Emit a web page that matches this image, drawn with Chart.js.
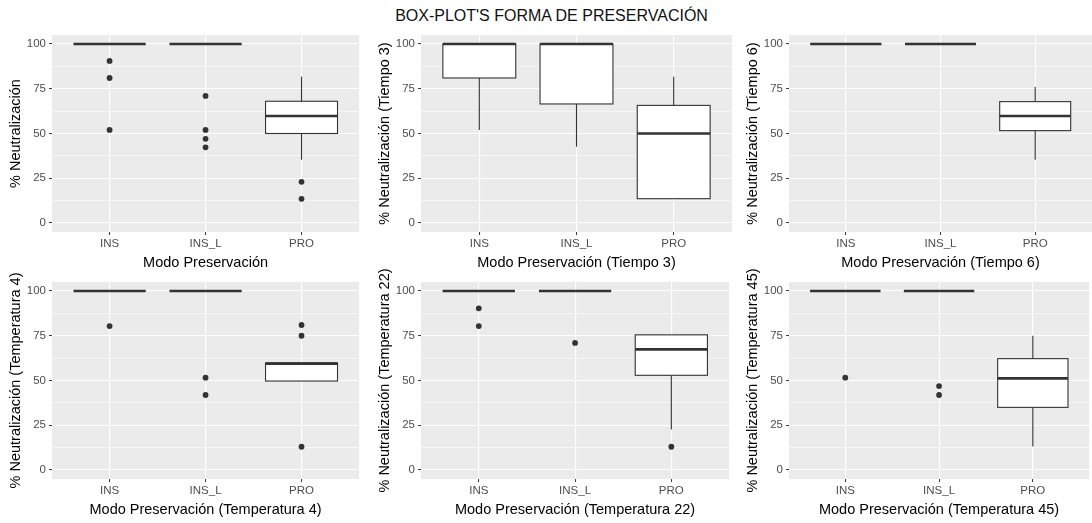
<!DOCTYPE html>
<html>
<head>
<meta charset="utf-8">
<script src="https://cdn.jsdelivr.net/npm/chart.js@4"></script>
<style>
  html, body { margin: 0; padding: 0; background: #ffffff; }
  #wrap { position: relative; width: 1092px; height: 523px; overflow: hidden; }
  #title {
    position: absolute; left: 0; width: 1103px; top: 7px;
    text-align: center; font: 16px "Liberation Sans", Arial, sans-serif; color: #111;
  }
  canvas { position: absolute; }
</style>
</head>
<body>
<div id="wrap">
  <div id="title">BOX-PLOT'S FORMA DE PRESERVACIÓN</div>
  <canvas id="p1"></canvas>
  <canvas id="p2"></canvas>
  <canvas id="p3"></canvas>
  <canvas id="p4"></canvas>
  <canvas id="p5"></canvas>
  <canvas id="p6"></canvas>
</div>
<script>
// Categories and axis ticks shared by all panels
const categories = ['INS', 'INS_L', 'PRO'];
const yTicks = [0, 12.5, 25, 37.5, 50, 62.5, 75, 87.5, 100];
const yLabelTicks = [0, 25, 50, 75, 100];

// Box statistics per category: [lower whisker, Q1, median, Q3, upper whisker]
const modoStats      = [[100, 100, 100, 100, 100], [100, 100, 100, 100, 100], [35.4, 50, 59.8, 68, 81.7]];
const modoOutliers   = [[90.5, 81, 52], [71, 52, 47, 42.3], [23, 13.5]];

const tiempo3Stats    = [[52, 81, 100, 100, 100], [42.6, 66.5, 100, 100, 100], [13.6, 13.6, 50, 65.7, 81.7]];
const tiempo3Outliers = [[], [], []];

const tiempo6Stats    = [[100, 100, 100, 100, 100], [100, 100, 100, 100, 100], [35.4, 51.6, 59.8, 67.8, 76]];
const tiempo6Outliers = [[], [], []];

const temp4Stats      = [[100, 100, 100, 100, 100], [100, 100, 100, 100, 100], [49.7, 49.7, 59.4, 59.8, 59.8]];
const temp4Outliers   = [[80.4], [51.6, 41.9], [81, 75, 13]];

const temp22Stats     = [[100, 100, 100, 100, 100], [100, 100, 100, 100, 100], [22.7, 52.9, 67.4, 75.5, 75.5]];
const temp22Outliers  = [[90.3, 80.4], [71], [13]];

const temp45Stats     = [[100, 100, 100, 100, 100], [100, 100, 100, 100, 100], [13.2, 35, 51.2, 62.2, 75]];
const temp45Outliers  = [[51.6], [46.9, 41.9], []];

const panels = [
  { id: 'p1', left: 0,   top: 18,  w: 362, yTitle: '% Neutralización',                 xTitle: 'Modo Preservación',                 stats: modoStats,    outliers: modoOutliers },
  { id: 'p2', left: 369, top: 18,  w: 363, yTitle: '% Neutralización (Tiempo 3)',       xTitle: 'Modo Preservación (Tiempo 3)',       stats: tiempo3Stats, outliers: tiempo3Outliers },
  { id: 'p3', left: 737, top: 18,  w: 355, yTitle: '% Neutralización (Tiempo 6)',       xTitle: 'Modo Preservación (Tiempo 6)',       stats: tiempo6Stats, outliers: tiempo6Outliers },
  { id: 'p4', left: 0,   top: 265, w: 362, yTitle: '% Neutralización (Temperatura 4)',  xTitle: 'Modo Preservación (Temperatura 4)',  stats: temp4Stats,   outliers: temp4Outliers },
  { id: 'p5', left: 369, top: 265, w: 363, yTitle: '% Neutralización (Temperatura 22)', xTitle: 'Modo Preservación (Temperatura 22)', stats: temp22Stats,  outliers: temp22Outliers },
  { id: 'p6', left: 737, top: 265, w: 355, yTitle: '% Neutralización (Temperatura 45)', xTitle: 'Modo Preservación (Temperatura 45)', stats: temp45Stats,  outliers: temp45Outliers }
];

const FONT = '"Liberation Sans", Arial, sans-serif';
const INK = '#333333';
const BOX_HALF = 0.375;

// Grey panel background behind the grid
const panelBackground = {
  id: 'panelBackground',
  beforeDraw(chart) {
    const { ctx, chartArea: a } = chart;
    ctx.save();
    ctx.fillStyle = '#EBEBEB';
    ctx.fillRect(a.left, a.top, a.right - a.left, a.bottom - a.top);
    ctx.restore();
  }
};

// Box-and-whisker marks, positioned through the chart's own scales
const boxes = {
  id: 'boxes',
  beforeDatasetsDraw(chart, args, opts) {
    const { ctx } = chart;
    const xs = chart.scales.x, ys = chart.scales.y;
    ctx.save();
    opts.stats.forEach((s, i) => {
      const [lo, q1, med, q3, hi] = s;
      const cx = xs.getPixelForValue(i + 1);
      const x0 = xs.getPixelForValue(i + 1 - BOX_HALF);
      const x1 = xs.getPixelForValue(i + 1 + BOX_HALF);
      const yLo = ys.getPixelForValue(lo), yQ1 = ys.getPixelForValue(q1);
      const yMed = ys.getPixelForValue(med), yQ3 = ys.getPixelForValue(q3);
      const yHi = ys.getPixelForValue(hi);
      ctx.strokeStyle = INK;
      ctx.lineWidth = 1.1;
      // whiskers
      ctx.beginPath();
      ctx.moveTo(cx, yQ3); ctx.lineTo(cx, yHi);
      ctx.moveTo(cx, yQ1); ctx.lineTo(cx, yLo);
      ctx.stroke();
      // box
      ctx.fillStyle = '#ffffff';
      ctx.fillRect(x0, yQ3, x1 - x0, yQ1 - yQ3);
      ctx.strokeRect(x0, yQ3, x1 - x0, yQ1 - yQ3);
      // median
      ctx.lineWidth = 2.6;
      ctx.beginPath();
      ctx.moveTo(x0, yMed); ctx.lineTo(x1, yMed);
      ctx.stroke();
    });
    ctx.restore();
  }
};

panels.forEach(p => {
  const cv = document.getElementById(p.id);
  const H = 257;
  cv.width = p.w; cv.height = H;
  cv.style.left = p.left + 'px';
  cv.style.top = p.top + 'px';

  const points = [];
  p.outliers.forEach((vals, i) => vals.forEach(v => points.push({ x: i + 1, y: v })));

  new Chart(cv, {
    type: 'scatter',
    data: {
      datasets: [{
        data: points,
        pointRadius: 2.9,
        pointHoverRadius: 2.9,
        backgroundColor: INK,
        borderWidth: 0
      }]
    },
    plugins: [panelBackground, boxes],
    options: {
      responsive: false,
      animation: false,
      events: [],
      layout: { padding: { top: 17, right: 0, left: 0, bottom: 0 } },
      plugins: {
        legend: { display: false },
        tooltip: { enabled: false },
        boxes: { stats: p.stats }
      },
      scales: {
        x: {
          type: 'linear',
          min: 0.4,
          max: 3.6,
          afterBuildTicks(scale) { scale.ticks = categories.map((c, i) => ({ value: i + 1 })); },
          afterFit(scale) { scale.height = 43; },
          border: { display: false },
          grid: { color: '#ffffff', lineWidth: 1.1, tickColor: INK, tickLength: 3, tickWidth: 1 },
          ticks: {
            padding: 2,
            color: '#4D4D4D',
            font: { family: FONT, size: 11.5 },
            maxRotation: 0,
            callback: (v) => categories[Math.round(v) - 1]
          },
          title: {
            display: true,
            text: p.xTitle,
            color: '#000000',
            font: { family: FONT, size: 14.5 },
            padding: { top: 0, bottom: 3 }
          }
        },
        y: {
          type: 'linear',
          min: -5,
          max: 105,
          afterBuildTicks(scale) { scale.ticks = yTicks.map(v => ({ value: v })); },
          afterFit(scale) { scale.width = 52; },
          border: { display: false },
          grid: {
            color: '#ffffff',
            lineWidth: (c) => (yLabelTicks.includes(c.tick.value) ? 1.1 : 0.55),
            tickColor: (c) => (yLabelTicks.includes(c.tick.value) ? INK : 'rgba(0,0,0,0)'),
            tickLength: 3,
            tickWidth: 1
          },
          ticks: {
            padding: 3,
            color: '#4D4D4D',
            font: { family: FONT, size: 11.5 },
            callback: (v) => (yLabelTicks.includes(v) ? String(v) : '')
          },
          title: {
            display: true,
            text: p.yTitle,
            color: '#000000',
            font: { family: FONT, size: 14.5 },
            padding: { top: 7, bottom: 0 }
          }
        }
      }
    }
  });
});
</script>
</body>
</html>
